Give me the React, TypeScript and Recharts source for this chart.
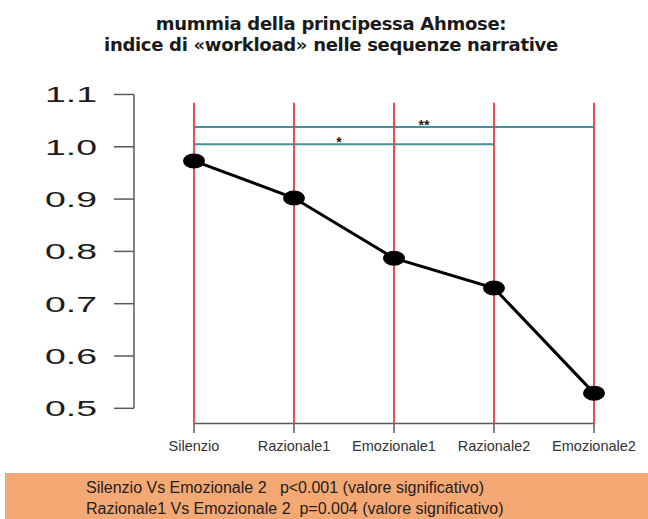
import { Line, LineChart, ReferenceDot, ReferenceLine, XAxis, YAxis } from 'recharts';

const CATEGORIES = ['Silenzio', 'Razionale1', 'Emozionale1', 'Razionale2', 'Emozionale2'];
const WORKLOAD = [0.973, 0.902, 0.787, 0.73, 0.529];
const Y_TICKS = [0.5, 0.6, 0.7, 0.8, 0.9, 1.0, 1.1];

// barre di significatività (da indice a indice, livello sull'asse y)
const SIG_FROM = [0, 0];
const SIG_TO = [4, 3];
const SIG_LEVEL = [1.038, 1.005];
const SIG_MARK = ['**', '*'];
const SIG_MARK_AT = [2.3, 1.45];

const TITLE = ['mummia della principessa Ahmose:', 'indice di «workload» nelle sequenze narrative'];
const NOTES = [
  'Silenzio Vs Emozionale 2   p<0.001 (valore significativo)',
  'Razionale1 Vs Emozionale 2  p=0.004 (valore significativo)',
];

const data = CATEGORIES.map((name, i) => ({ idx: i, name, value: WORKLOAD[i] }));

const Y_MIN = 0.47;
const Y_MAX = 1.12;
const RED_TOP = 1.084;
const FONT = '"Liberation Sans", Arial, sans-serif';

const C = {
  red: '#e63c3f',
  teal: '#44919a',
  axis: '#5a5a5a',
  text: '#1c1c1c',
  box: '#f4a874',
};

function YTick(props: any) {
  const { x, y, payload } = props;
  return (
    <g transform={`translate(${x},${y}) scale(1.7,1)`}>
      <text x={0} y={0} dy="0.36em" textAnchor="end" fontSize={22} fill={C.text} fontFamily={FONT}>
        {Number(payload.value).toFixed(1)}
      </text>
    </g>
  );
}

function Dot(props: any) {
  const { cx, cy, index } = props;
  return <ellipse key={index} cx={cx} cy={cy} rx={11} ry={7.5} fill="#000" />;
}

export default function App() {
  return (
    <div style={{ position: 'absolute', left: 0, top: 0, width: 648, height: 519, background: '#fff', fontFamily: FONT }}>
      <div
        style={{
          position: 'absolute',
          top: 13,
          left: 0,
          width: 662,
          textAlign: 'center',
          fontWeight: 'bold',
          fontSize: 18,
          lineHeight: '21px',
          color: '#1a1a1a',
          fontFamily: '"DejaVu Sans", sans-serif',
          letterSpacing: -0.3,
        }}
      >
        {TITLE.map((t) => (
          <div key={t}>{t}</div>
        ))}
      </div>
      <LineChart width={648} height={470} data={data} margin={{ top: 84, right: 34, left: 14, bottom: 16 }}>
        <XAxis
          dataKey="idx"
          type="number"
          domain={[-0.6, 4.2]}
          ticks={[0, 1, 2, 3, 4]}
          tickFormatter={(v: number) => CATEGORIES[v] ?? ''}
          axisLine={false}
          tickLine={{ stroke: C.axis, strokeWidth: 1.5 }}
          tickSize={9}
          tickMargin={8}
          height={30}
          tick={{ fontSize: 14.5, fill: '#333', fontFamily: FONT }}
        />
        <YAxis
          type="number"
          domain={[Y_MIN, Y_MAX]}
          ticks={Y_TICKS}
          axisLine={false}
          tickLine={{ stroke: C.axis, strokeWidth: 1.5 }}
          tickSize={20}
          tickMargin={17}
          width={120}
          tick={<YTick />}
        />
        {/* assi in stile R, staccati dall'area del grafico */}
        <ReferenceLine
          segment={[{ x: -0.6, y: Y_TICKS[0] }, { x: -0.6, y: Y_TICKS[Y_TICKS.length - 1] }]}
          stroke={C.axis}
          strokeWidth={1.5}
          ifOverflow="visible"
        />
        <ReferenceLine
          segment={[{ x: 0, y: Y_MIN + 0.001 }, { x: 4, y: Y_MIN + 0.001 }]}
          stroke={C.axis}
          strokeWidth={1.5}
          ifOverflow="visible"
        />
        {SIG_FROM.map((from, i) => (
          <ReferenceLine
            key={`sig-${i}`}
            segment={[{ x: from, y: SIG_LEVEL[i] }, { x: SIG_TO[i], y: SIG_LEVEL[i] }]}
            stroke={C.teal}
            strokeWidth={2}
          />
        ))}
        {SIG_MARK.map((m, i) => (
          <ReferenceDot
            key={`mark-${i}`}
            x={SIG_MARK_AT[i]}
            y={SIG_LEVEL[i]}
            r={0}
            fill="none"
            stroke="none"
            label={{ value: m, position: 'top', offset: -3, fontSize: 14, fontWeight: 'bold', fill: C.text }}
          />
        ))}
        <Line
          dataKey="value"
          stroke="#000"
          strokeWidth={3}
          dot={<Dot />}
          activeDot={false}
          isAnimationActive={false}
        />
        {CATEGORIES.map((c, i) => (
          <ReferenceLine
            key={c}
            segment={[{ x: i, y: Y_MIN }, { x: i, y: RED_TOP }]}
            stroke={C.red}
            strokeWidth={1.8}
          />
        ))}
      </LineChart>
      <div
        style={{
          position: 'absolute',
          left: 5,
          top: 473,
          width: 643,
          height: 46,
          background: C.box,
          fontSize: 16,
          lineHeight: '21px',
          color: '#222',
          paddingTop: 4,
          boxSizing: 'border-box',
          whiteSpace: 'pre',
        }}
      >
        {NOTES.map((n) => (
          <div key={n} style={{ paddingLeft: 81 }}>
            {n}
          </div>
        ))}
      </div>
    </div>
  );
}
